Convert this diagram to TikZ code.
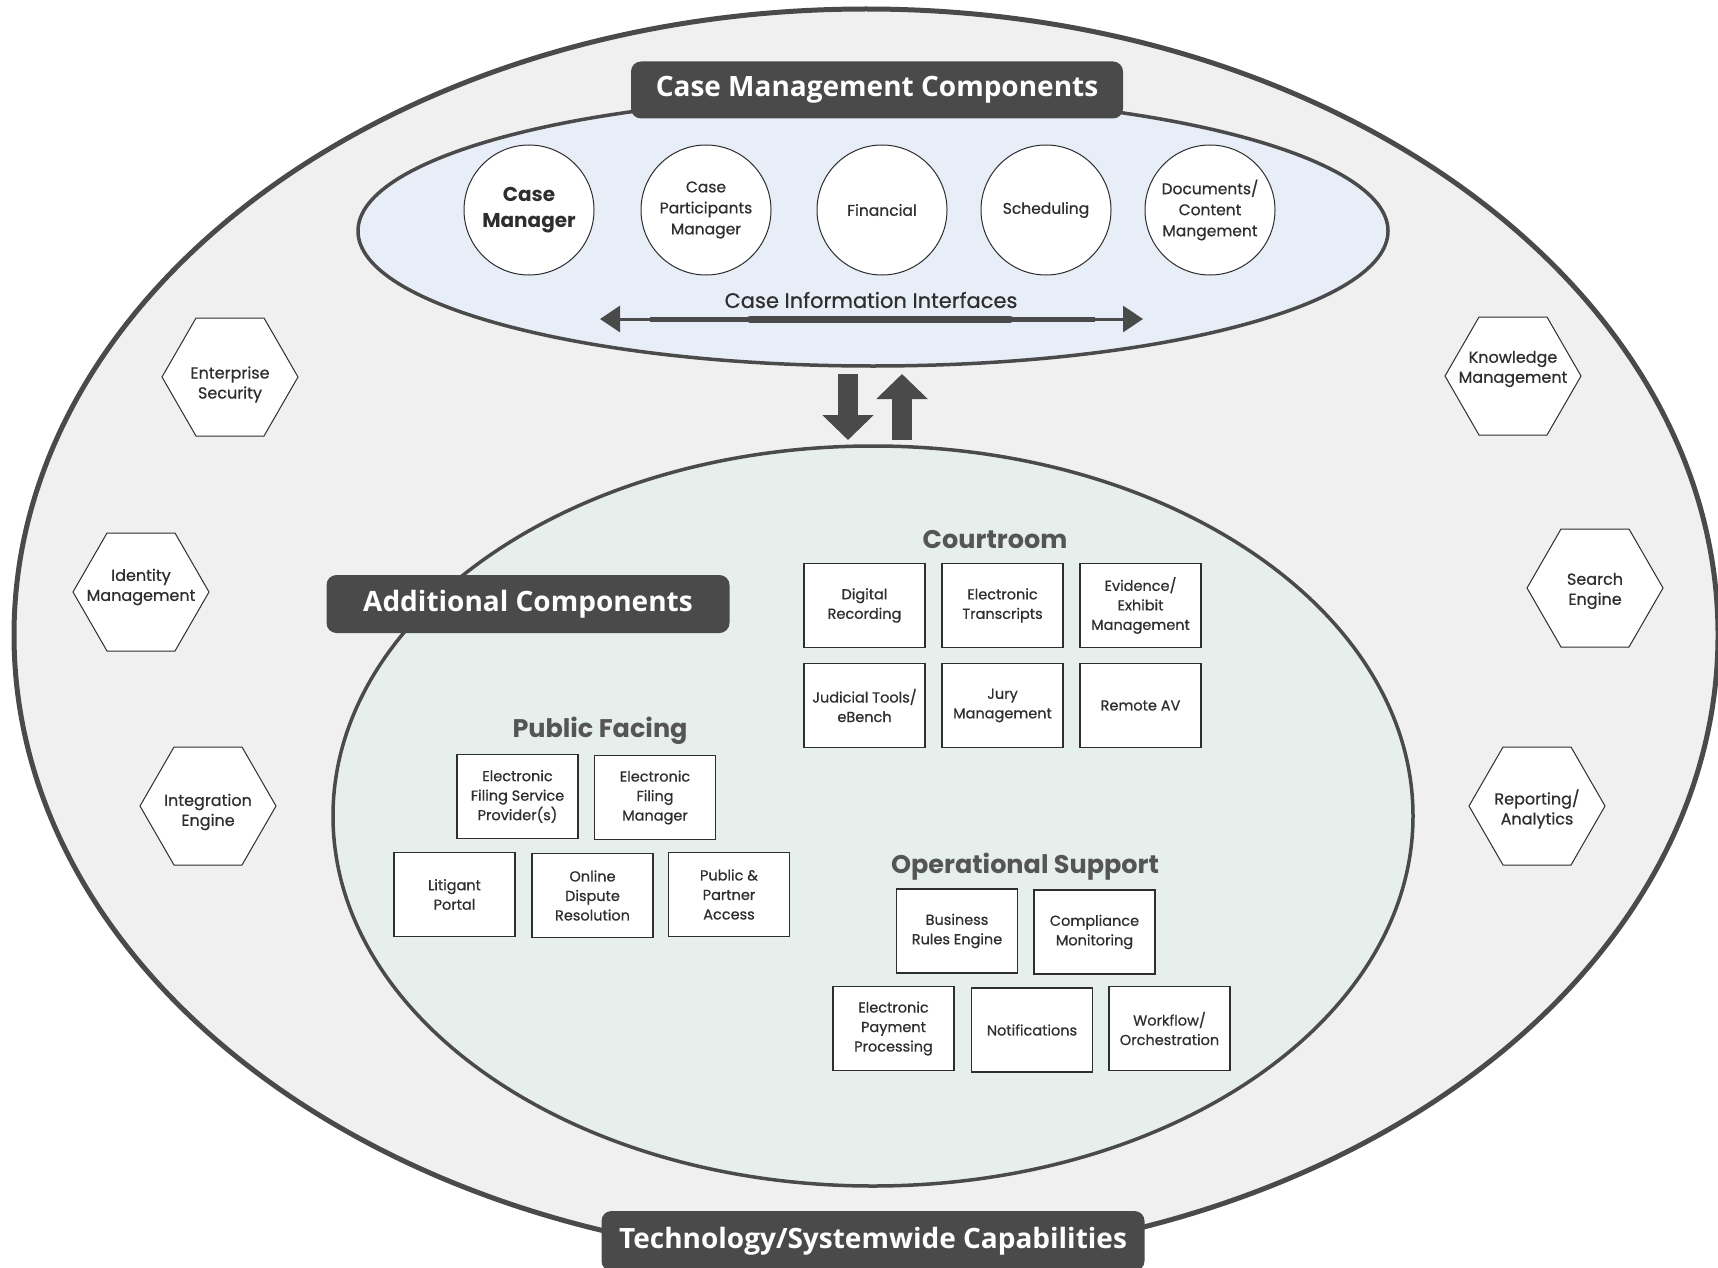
\documentclass[tikz,border=0pt]{standalone}
\usepackage{fontspec}
\setmainfont{Poppins}
\newfontfamily\bodyfont{Poppins}[FakeBold=0.6]
\newfontfamily\bannerfont{Open Sans}
\usetikzlibrary{arrows.meta}
\definecolor{bannergray}{HTML}{4A4A4A}
\definecolor{ringgray}{HTML}{F0F0F0}
\definecolor{caseblue}{HTML}{E8EEF8}
\definecolor{addgreen}{HTML}{E6EFEC}
\definecolor{textgray}{HTML}{2E2E2E}
\definecolor{headgray}{HTML}{555555}

\begin{document}
\begin{tikzpicture}[x=1pt,y=-1pt,
  banner/.style={fill=bannergray, rounded corners=10pt, text=white, inner sep=0pt, font=\bannerfont\bfseries\fontsize{28}{32}\selectfont},
  comp/.style={circle, draw=textgray, fill=white, line width=1pt, minimum size=130pt, inner sep=0pt, align=center, text=textgray, font=\bodyfont\fontsize{15.5}{21}\selectfont},
  box/.style={draw=textgray, fill=white, line width=1.5pt, minimum width=121pt, minimum height=84pt, inner sep=0pt, align=center, text=textgray, font=\bodyfont\fontsize{14.5}{19.5}\selectfont},
  hexlabel/.style={align=center, text=textgray, font=\bodyfont\fontsize{16}{20}\selectfont},
  hexline/.style={draw=textgray, fill=white, line width=1pt},
  grouphead/.style={anchor=base, text=headgray, font=\bfseries\fontsize{25.5}{28}\selectfont},
  bigarrow/.style={draw=bannergray, line width=20pt, -{Triangle[length=25pt,width=50pt]}}]
\useasboundingbox (0,0) rectangle (1718,1268);

% the three rings
\draw [bannergray, line width=5pt, fill=ringgray] (866,635) ellipse [x radius=852, y radius=626];
\draw [bannergray, line width=3.5pt, fill=caseblue] (873,231) ellipse [x radius=515, y radius=135];
\draw [bannergray, line width=3.5pt, fill=addgreen] (873,816) ellipse [x radius=540, y radius=370];

\node [banner, minimum width=492pt, minimum height=57pt] (cmc) at (877,90) {Case Management Components};
\node [banner, minimum width=403pt, minimum height=58pt] (addc) at (528,604) {Additional Components};
\node [banner, minimum width=543pt, minimum height=60pt] (tech) at (873,1241) {Technology/Systemwide Capabilities};

% case management components
\node [comp, font=\bfseries\fontsize{20}{26}\selectfont] (casemgr) at (529,210) {Case\\Manager};
\node [comp] (partmgr) at (706,210) {Case\\Participants\\Manager};
\node [comp] (financial) at (882,210) {Financial};
\node [comp] (sched) at (1046,210) {Scheduling};
\node [comp] (docs) at (1210,210) {Documents/\\Content\\Mangement};

\node [text=textgray, font=\bodyfont\fontsize{21}{24}\selectfont] (cii) at (871,300) {Case Information Interfaces};
\coordinate (ciil) at (600,319);
\coordinate (ciir) at (1143,319);
\draw [bannergray, line width=3pt, {Triangle[length=20pt,width=26pt]}-{Triangle[length=20pt,width=26pt]}] (ciil) -- (ciir);
\draw [bannergray, line width=5pt] (650,319) -- (1095,319);
\draw [bannergray, line width=7pt, line cap=round] (750,319) -- (1010,319);

% exchange between the two groups
\coordinate (dntop) at (848,374);
\coordinate (dnbot) at (848,440);
\coordinate (uptop) at (902,374);
\coordinate (upbot) at (902,440);
\draw [bigarrow] (dntop) -- (dnbot);
\draw [bigarrow] (upbot) -- (uptop);

% systemwide capabilities
\foreach \n/\x/\y/\d/\t in {entsec/230/377/7.5/{Enterprise\\Security}, identity/141/592/-5/{Identity\\Management},
  integ/208/806/6/{Integration\\Engine}, knowledge/1513/376/-7/{Knowledge\\Management},
  search/1595/588/3/{Search\\Engine}, report/1537/806/3/{Reporting/\\Analytics}}
{
  \draw [hexline] (\x-68,\y) -- (\x-34,\y-59) -- (\x+34,\y-59) -- (\x+68,\y) -- (\x+34,\y+59) -- (\x-34,\y+59) -- cycle;
  \node [hexlabel] (\n) at (\x,\y+\d) {\t};
}

% courtroom
\node [grouphead] (court) at (995,548) {Courtroom};
\foreach \n/\x/\y/\t in {digrec/864.5/605.5/{Digital\\Recording}, etrans/1002.5/605.5/{Electronic\\Transcripts},
  evid/1140.5/605.5/{Evidence/\\Exhibit\\Management}, judtools/864.5/705.5/{Judicial Tools/\\eBench},
  jury/1002.5/705.5/{Jury\\Management}, remav/1140.5/705.5/{Remote AV}}
  \node [box] (\n) at (\x,\y) {\t};

% public facing
\node [grouphead] (public) at (600,737) {Public Facing};
\foreach \n/\x/\y/\t in {efsp/517.5/796.5/{Electronic\\Filing Service\\Provider(s)}, efm/655/797.5/{Electronic\\Filing\\Manager},
  litig/454.5/894.5/{Litigant\\Portal}, odr/592.5/895.5/{Online\\Dispute\\Resolution},
  partner/729/894.5/{Public \&\\Partner\\Access}}
  \node [box] (\n) at (\x,\y) {\t};

% operational support
\node [grouphead] (ops) at (1025,873) {Operational Support};
\foreach \n/\x/\y/\t in {rules/957/931/{Business\\Rules Engine}, compl/1094.5/932/{Compliance\\Monitoring},
  epay/893.5/1028.5/{Electronic\\Payment\\Processing}, notif/1032/1030/{Notifications},
  workflow/1169.5/1028.5/{Workflow/\\Orchestration}}
  \node [box] (\n) at (\x,\y) {\t};
\end{tikzpicture}
\end{document}
